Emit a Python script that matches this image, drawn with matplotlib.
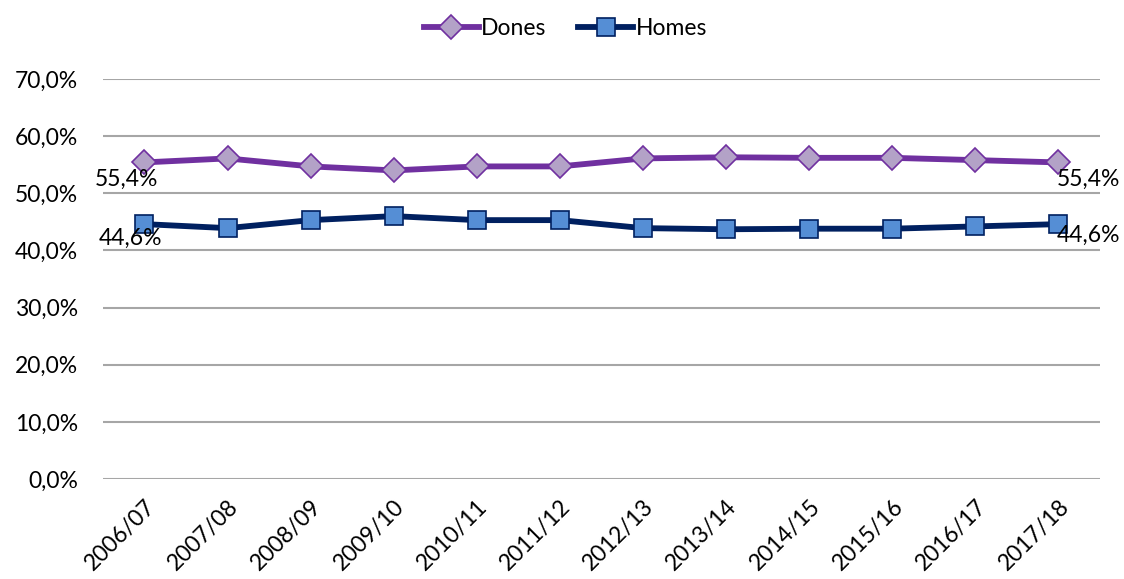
import matplotlib
matplotlib.use("Agg")
import matplotlib.pyplot as plt
from matplotlib.ticker import FuncFormatter

# === DATA ===
courses = ['2006/07', '2007/08', '2008/09', '2009/10', '2010/11', '2011/12',
           '2012/13', '2013/14', '2014/15', '2015/16', '2016/17', '2017/18']
dones = [55.4, 56.1, 54.7, 54.0, 54.7, 54.7, 56.1, 56.3, 56.2, 56.2, 55.8, 55.4]
homes = [44.6, 43.9, 45.3, 46.0, 45.3, 45.3, 43.9, 43.7, 43.8, 43.8, 44.2, 44.6]

plt.rcParams['font.family'] = ['Lato', 'DejaVu Sans']
fs = 16.5

fig = plt.figure(figsize=(11.24, 5.79), dpi=100)
ax = fig.add_axes([0.0916, 0.1727, 0.887, 0.6909])

x = range(len(courses))
ax.plot(x, dones, color='#7030A0', lw=4.2, marker='D', ms=12,
        mfc='#B3A2C7', mec='#7030A0', mew=1.2, label='Dones', zorder=3)
ax.plot(x, homes, color='#002060', lw=4.2, marker='s', ms=13.5,
        mfc='#558ED5', mec='#002060', mew=1.2, label='Homes', zorder=3)

# end labels
fmt = lambda v: f"{v:.1f}%".replace('.', ',')
lab = dict(textcoords='offset points', fontsize=fs, ha='center', va='center', zorder=4)
ax.annotate(fmt(dones[0]), (0, dones[0]), xytext=(-13, -12), **lab)
ax.annotate(fmt(homes[0]), (0, homes[0]), xytext=(-10, -10), **lab)
ax.annotate(fmt(dones[-1]), (11, dones[-1]), xytext=(22, -12), **lab)
ax.annotate(fmt(homes[-1]), (11, homes[-1]), xytext=(22, -8), **lab)

ax.set_xlim(-0.5, 11.5)
ax.set_ylim(0, 70)
ax.set_yticks(range(0, 71, 10))
ax.yaxis.set_major_formatter(FuncFormatter(lambda v, p: fmt(v)))
ax.set_xticks(list(x))
ax.set_xticklabels(courses, rotation=45, ha='right', rotation_mode='anchor')
ax.tick_params(axis='both', length=0, labelsize=fs)
ax.tick_params(axis='y', pad=18)
ax.tick_params(axis='x', pad=12)
ax.grid(axis='y', color='#A6A6A6', lw=1.5)
ax.set_axisbelow(True)
for s in ax.spines.values():
    s.set_visible(False)

fig.legend(loc='upper center', bbox_to_anchor=(0.503, 1.005), ncol=2, frameon=False,
           fontsize=fs, handlelength=2.4, handletextpad=0.1, columnspacing=1.4)

fig.savefig('out.png', dpi=100)
